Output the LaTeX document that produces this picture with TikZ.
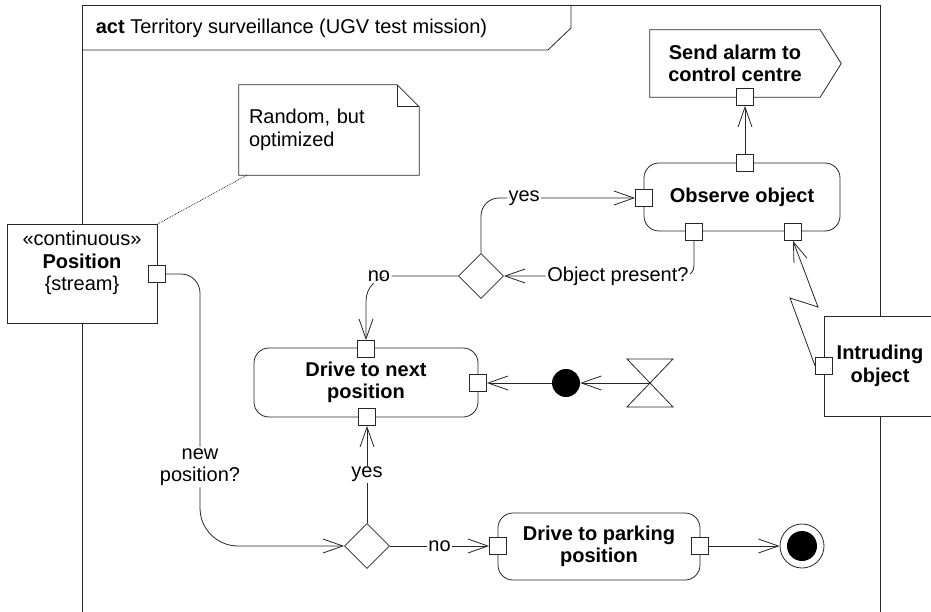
\documentclass[tikz,border=0pt]{standalone}
\usepackage{fontspec}
\setmainfont{Liberation Sans}
\usetikzlibrary{arrows.meta,shapes.geometric,calc}

\tikzset{
  wire/.style={line width=0.8pt, draw=black!85},
  flow/.style={wire, -{Straight Barb[length=20pt,width=14pt,line width=0.8pt]}},
  flowlabel/.style={fill=white, inner sep=1.5pt},
  actionbox/.style={wire, fill=white, rounded corners=15pt, font=\bfseries, align=center},
  objbox/.style={wire, fill=white, rectangle, align=center},
  portbox/.style={wire, fill=white, rectangle, minimum size=17pt, inner sep=0pt},
  decision/.style={wire, fill=white, diamond, minimum width=45pt, minimum height=45pt, inner sep=0pt},
  initnode/.style={circle, fill=black, minimum size=28pt, inner sep=0pt},
  finalnode/.style={wire, circle, minimum size=44pt, inner sep=0pt,
    path picture={\fill[black] (path picture bounding box.center) circle (15pt);}},
  notebox/.style={inner xsep=10pt, text width=160pt, minimum height=90pt, align=left}
}

\begin{document}
\fontsize{20}{22.5}\selectfont
\begin{tikzpicture}[x=1pt, y=-1pt]
\useasboundingbox (0,0) rectangle (931,612);

\draw[wire] (82,612) -- (82,5) -- (880,5) -- (880,612);
\draw[wire] (82,50) -- (548,50) -- (571,28) -- (571,5);
\node[anchor=west] (title) at (89,28) {\textbf{act} Territory surveillance (UGV test mission)};

\node[objbox, minimum width=150pt, minimum height=99pt] (position) at (82,274) {};
\node[align=center] (positiontext) at (82,263) {«continuous»\\\textbf{Position}\\\{stream\}};
\node[objbox, font=\bfseries, minimum width=112pt, minimum height=100pt] (intruder) at (880,366) {Intruding\\object};

\node[notebox] (note) at (329,130) {Random, but\\optimized};
\draw[wire] (note.south west) -- (note.north west) -- ([xshift=-22pt]note.north east)
  -- ([yshift=-22pt]note.north east) -- (note.south east) -- cycle;
\draw[wire] ([xshift=-22pt]note.north east) |- ([yshift=-22pt]note.north east);
\coordinate (notefoot) at ([xshift=8pt]note.south west);
\draw[wire, densely dotted] (notefoot) -- (position.north east);

\node[font=\bfseries, align=center, minimum width=170pt, minimum height=67pt] (alarm) at (735,63.5) {Send alarm to\\control centre};
\draw[wire] (alarm.north west) -- (alarm.north east) -- ($(alarm.east)+(21,0)$)
  -- (alarm.south east) -- (alarm.south west) -- cycle;

\node[actionbox, minimum width=196pt, minimum height=68pt] (observe) at (742,197) {Observe object};
\node[actionbox, minimum width=224pt, minimum height=69pt] (nextpos) at (366,382.5) {Drive to next\\position};
\node[actionbox, minimum width=202pt, minimum height=67pt] (parking) at (599,546.5) {Drive to parking\\position};

\node[portbox] (posOut) at (157,274) {};
\node[portbox] (alarmIn) at (745,97) {};
\node[portbox] (obsTop) at (745,163) {};
\node[portbox] (obsIn) at (644,198) {};
\node[portbox] (obsAsk) at (694,232) {};
\node[portbox] (obsIntr) at (793,232) {};
\node[portbox] (intrOut) at (824,366) {};
\node[portbox] (nextTop) at (366,349) {};
\node[portbox] (nextRight) at (478,383) {};
\node[portbox] (nextBottom) at (367,417) {};
\node[portbox] (parkIn) at (498,546) {};
\node[portbox] (parkOut) at (700,546) {};

\node[decision] (askObject) at (481,276) {};
\node[decision] (askPosition) at (367,546) {};

\node[initnode] (start) at (566,383) {};
\node[finalnode] (finish) at (802,546) {};
\coordinate (timer) at (650,383);
\draw[wire] ($(timer)+(-23,-24)$) -- ++(46,0) -- ($(timer)+(-23,24)$) -- ++(46,0) -- cycle;

\draw[flow] (timer) -- (start);
\draw[flow] (start) -- (nextRight);
\draw[flow] (obsTop) -- (alarmIn);
\draw[flow, rounded corners=10pt] (obsAsk) |- node[flowlabel, pos=0.7] {Object present?} (askObject.east);
\draw[flow, rounded corners=18pt] (askObject.north) |- node[flowlabel, pos=0.64] {yes} (obsIn);
\draw[flow, rounded corners=25pt] (askObject.west) -| node[flowlabel, pos=0.43] {no} (nextTop);
\draw[flow] (intrOut.west) -- (790,298) -- (818,307) -- (obsIntr.south);
\draw[flow] (posOut.east) [rounded corners=19pt] -| (200,400) [rounded corners=38pt] |- node[flowlabel, pos=0.23, align=center] {new\\position?} (askPosition.west);
\draw[flow] (askPosition) -- node[flowlabel] {yes} (nextBottom);
\draw[flow] (askPosition) -- node[flowlabel] {no} (parkIn);
\draw[flow] (parkOut) -- (finish);
\end{tikzpicture}
\end{document}
